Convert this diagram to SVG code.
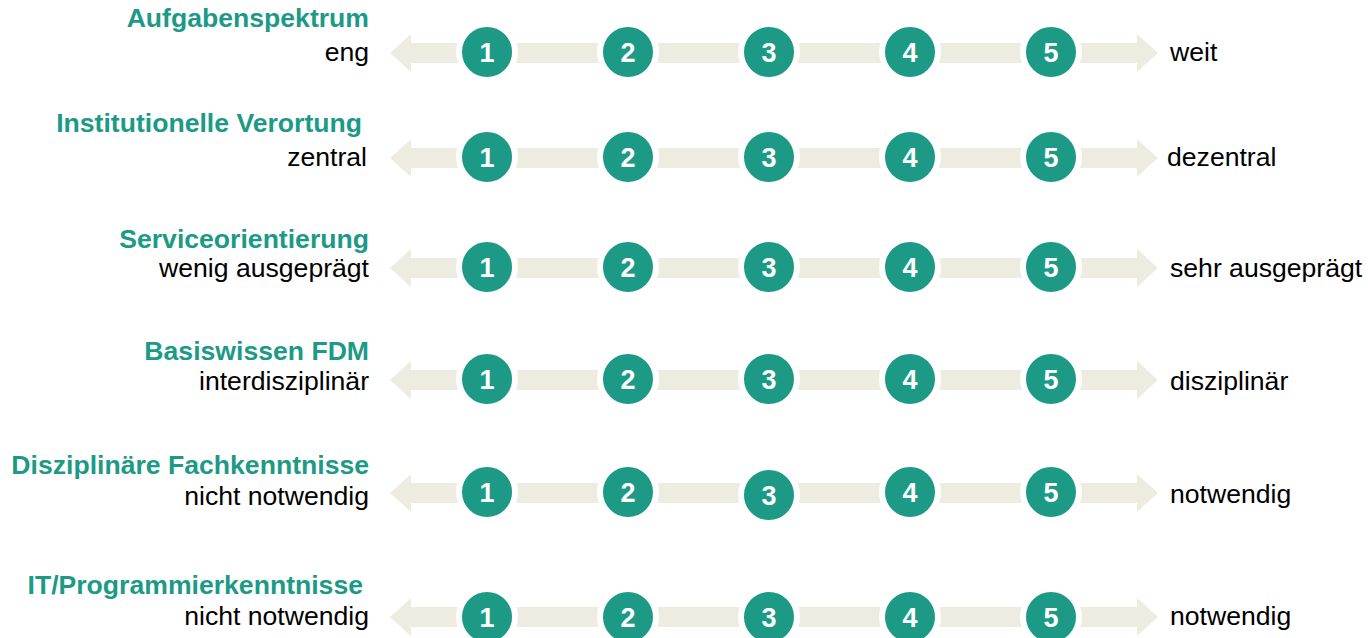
<svg xmlns="http://www.w3.org/2000/svg" width="1368" height="638" viewBox="0 0 1368 638">
<style>
text{font-family:"Liberation Sans",Arial,sans-serif;font-size:26.6px}
.t{font-weight:bold;fill:#1c9a86;text-anchor:end}
.l{fill:#000;text-anchor:end}
.r{fill:#000}
.bar{fill:#eeece1}
.c{fill:#1c9a86;stroke:#fff;stroke-width:6}
.n{font-weight:bold;fill:#fff;text-anchor:middle;font-size:27px}
</style>
<defs>
<g id="arr">
<polygon class="bar" points="390,0 411,-19 411,-10 1137,-10 1137,-19 1158,0 1137,19 1137,10 411,10 411,19"/>
</g>
<g id="circles">
<circle class="c" cx="487" cy="0" r="28"/>
<circle class="c" cx="628" cy="0" r="28"/>
<circle class="c" cx="769" cy="0" r="28"/>
<circle class="c" cx="910" cy="0" r="28"/>
<circle class="c" cx="1051" cy="0" r="28"/>
<text class="n" x="487" y="10">1</text>
<text class="n" x="628" y="10">2</text>
<text class="n" x="769" y="10">3</text>
<text class="n" x="910" y="10">4</text>
<text class="n" x="1051" y="10">5</text>
</g>
</defs>
<g id="connectors">
<use href="#arr" y="53"/>
<use href="#arr" y="158"/>
<use href="#arr" y="268"/>
<use href="#arr" y="380"/>
<use href="#arr" y="493"/>
<use href="#arr" y="617"/>
</g>
<g id="row1">
<text class="t" x="369" y="27">Aufgabenspektrum</text>
<text class="l" x="369" y="61">eng</text>
<use href="#circles" y="52"/>
<text class="r" x="1170" y="61">weit</text>
</g>
<g id="row2">
<text class="t" x="362" y="132">Institutionelle Verortung</text>
<text class="l" x="367" y="166">zentral</text>
<use href="#circles" y="157"/>
<text class="r" x="1167" y="166">dezentral</text>
</g>
<g id="row3">
<text class="t" x="369" y="248">Serviceorientierung</text>
<text class="l" x="369" y="277">wenig ausgeprägt</text>
<use href="#circles" y="267"/>
<text class="r" x="1170" y="277">sehr ausgeprägt</text>
</g>
<g id="row4">
<text class="t" x="369" y="360">Basiswissen FDM</text>
<text class="l" x="369" y="390">interdisziplinär</text>
<use href="#circles" y="379"/>
<text class="r" x="1170" y="390">disziplinär</text>
</g>
<g id="row5">
<text class="t" x="369" y="474">Disziplinäre Fachkenntnisse</text>
<text class="l" x="369" y="505">nicht notwendig</text>
<circle class="c" cx="487" cy="492" r="28"/>
<circle class="c" cx="628" cy="492" r="28"/>
<circle class="c" cx="769" cy="495" r="28"/>
<circle class="c" cx="910" cy="492" r="28"/>
<circle class="c" cx="1051" cy="492" r="28"/>
<text class="n" x="487" y="502">1</text>
<text class="n" x="628" y="502">2</text>
<text class="n" x="769" y="505">3</text>
<text class="n" x="910" y="502">4</text>
<text class="n" x="1051" y="502">5</text>
<text class="r" x="1170" y="503">notwendig</text>
</g>
<g id="row6">
<text class="t" x="363" y="594">IT/Programmierkenntnisse</text>
<text class="l" x="369" y="625">nicht notwendig</text>
<use href="#circles" y="617"/>
<text class="r" x="1170" y="625">notwendig</text>
</g>
</svg>
